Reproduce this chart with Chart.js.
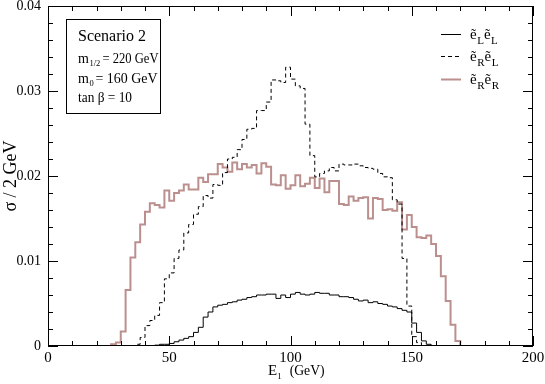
<!DOCTYPE html>
<html lang="en">
<head>
<meta charset="UTF-8">
<title>Scenario 2 - E1 spectrum</title>
<script src="https://cdn.jsdelivr.net/npm/chart.js@4.4.0/dist/chart.umd.min.js"></script>
<style>
  html, body { margin: 0; padding: 0; background: #ffffff; }
  .chart-box { position: relative; width: 545px; height: 384px; }
</style>
</head>
<body>
<div class="chart-box"><canvas id="spectrum"></canvas></div>
<script>
// histogram bins are 2 GeV wide, starting at 0
const binWidth = 2;
const xTicks = [0, 50, 100, 150, 200];
const yTicks = [0, 0.01, 0.02, 0.03, 0.04];
const xMinorStep = 10;
const yMinorStep = 0.002;

// sigma per 2 GeV bin (100 bins, 0..200 GeV)
const eLeL = [
  0,0,0,0,0,0,0,0,0,0, 0,0,0,0,0,0,0,0,0,0, 0,0,
  0.0001,0.0002,0.0002,0.0003,0.0005,0.0007,0.0009,0.0011,
  0.0016,0.0022,0.0034,0.0040,0.0046,0.0048,0.0049,0.0051,0.0052,0.0054,
  0.0055,0.0057,0.0058,0.0060,0.0060,0.0061,0.0061,0.0056,0.0060,0.0057,
  0.0061,0.0063,0.0061,0.0060,0.0061,0.0063,0.0062,0.0062,0.0060,0.0060,
  0.0058,0.0058,0.0057,0.0055,0.0053,0.0054,0.0051,0.0052,0.0050,0.0049,
  0.0047,0.0046,0.0044,0.0042,0.0040,0.0027,0.0016,0.0006,0.0002,
  0,0,0,0,0,0,0,0,0,0, 0,0,0,0,0,0,0,0,0,0, 0
];
const eReL = [
  0,0,0,0,0,0,0,0,0,0, 0,0,0,0,0,0,0,0,
  0.0002,0.0010,
  0.0024,0.0030,0.0036,0.0051,0.0079,0.0086,0.0103,0.0113,0.0133,0.0143,
  0.0155,0.0164,0.0177,0.0174,0.0190,0.0189,0.0204,0.0220,0.0222,0.0231,
  0.0243,0.0255,0.0256,0.0277,0.0277,0.0287,0.0313,0.0312,0.0310,0.0328,
  0.0314,0.0306,0.0303,0.0261,0.0224,0.0199,0.0203,0.0206,0.0210,0.0206,
  0.0214,0.0213,0.0213,0.0214,0.0212,0.0210,0.0209,0.0208,0.0203,0.0199,
  0.0198,0.0172,0.0167,0.0103,0.0047,0.0011,0.0004,
  0,0,0,0,0,0,0,0,0,0, 0,0,0,0,0,0,0,0,0,0, 0,0,0
];
const eReR = [
  0,0,0,0,0,0,0,0,0,0, 0,0,0,
  0.0002,0.0004,0.0017,0.0066,0.0104,0.0122,0.0143,
  0.0158,0.0168,0.0166,0.0163,0.0183,0.0171,0.0180,0.0183,0.0190,0.0184,
  0.0184,0.0198,0.0193,0.0202,0.0202,0.0214,0.0210,0.0205,0.0216,0.0208,
  0.0214,0.0210,0.0213,0.0203,0.0215,0.0211,0.0190,0.0189,0.0201,0.0185,
  0.0189,0.0201,0.0188,0.0191,0.0198,0.0186,0.0197,0.0181,0.0194,0.0194,
  0.0167,0.0166,0.0176,0.0171,0.0174,0.0175,0.0150,0.0174,0.0173,0.0160,
  0.0161,0.0159,0.0169,0.0137,0.0154,0.0140,0.0128,0.0127,0.0130,0.0120,
  0.0106,0.0082,0.0053,0.0025,0.0006,
  0,0,0,0,0,0,0,0,0,0, 0,0,0,0,0
];

const serif = "'Liberation Serif', 'Times New Roman', serif";

// left bin edges, plus closing point at the upper edge of the last bin
function histPoints(values) {
  const pts = values.map((v, i) => ({ x: i * binWidth, y: v }));
  pts.push({ x: values.length * binWidth, y: values[values.length - 1] });
  return pts;
}

const decorations = {
  id: 'decorations',
  afterDraw(chart) {
    const ctx = chart.ctx;
    const a = chart.chartArea;
    const xs = chart.scales.x, ys = chart.scales.y;
    ctx.save();
    ctx.strokeStyle = '#000';
    ctx.lineWidth = 1;

    // frame
    ctx.strokeRect(a.left + 0.5, a.top + 0.5, a.right - a.left - 1, a.bottom - a.top - 1);

    // inward ticks on all four sides
    ctx.beginPath();
    for (let v = xs.min; v <= xs.max + 1e-9; v += xMinorStep) {
      const px = Math.round(xs.getPixelForValue(v)) + 0.5;
      const len = xTicks.includes(v) ? 10 : 5;
      ctx.moveTo(px, a.bottom); ctx.lineTo(px, a.bottom - len);
      ctx.moveTo(px, a.top); ctx.lineTo(px, a.top + len);
    }
    for (let k = 0; k * yMinorStep <= ys.max + 1e-9; k++) {
      const v = k * yMinorStep;
      const py = Math.round(ys.getPixelForValue(v)) + 0.5;
      const len = k % 5 === 0 ? 10 : 5;
      ctx.moveTo(a.left, py); ctx.lineTo(a.left + len, py);
      ctx.moveTo(a.right, py); ctx.lineTo(a.right - len, py);
    }
    ctx.stroke();

    ctx.fillStyle = '#000';
    ctx.textBaseline = 'alphabetic';

    // y axis title
    ctx.save();
    ctx.translate(16, (a.top + a.bottom) / 2);
    ctx.rotate(-Math.PI / 2);
    ctx.textAlign = 'center';
    ctx.font = '18px ' + serif;
    ctx.fillText('σ / 2 GeV', 0, 0);
    ctx.restore();

    // x axis title with subscript
    ctx.textAlign = 'left';
    let tx = 268, ty = 375;
    ctx.font = '15px ' + serif;
    ctx.fillText('E', tx, ty);
    tx += ctx.measureText('E').width;
    ctx.font = '9px ' + serif;
    ctx.fillText('1', tx, ty + 4);
    tx += ctx.measureText('1').width + 8;
    ctx.font = '14px ' + serif;
    ctx.fillText('(GeV)', tx, ty, 35);

    // info box
    ctx.strokeRect(66.5, 19.5, 94, 94);
    ctx.font = '16px ' + serif;
    ctx.fillText('Scenario 2', 78, 40.5);

    ctx.font = '14px ' + serif;
    ctx.fillText('m', 78, 62.5);
    let mx = 78 + ctx.measureText('m').width + 0.5;
    ctx.font = '8.5px ' + serif;
    ctx.fillText('1/2', mx, 66);
    ctx.font = '14px ' + serif;
    ctx.fillText('= 220 GeV', 102.5, 62.5, 56);

    ctx.fillText('m', 78, 82.5);
    ctx.font = '8.5px ' + serif;
    ctx.fillText('0', mx, 86);
    ctx.font = '14px ' + serif;
    ctx.fillText('= 160 GeV', 95.5, 82.5, 62);
    ctx.fillText('tan β = 10', 78, 101.5, 54);

    // legend
    const rows = [
      { ds: 0, y: 34.5, a: 'L', b: 'L' },
      { ds: 1, y: 56.5, a: 'R', b: 'L' },
      { ds: 2, y: 79.5, a: 'R', b: 'R' }
    ];
    rows.forEach(r => {
      const d = chart.data.datasets[r.ds];
      ctx.save();
      ctx.strokeStyle = d.borderColor;
      ctx.lineWidth = d.borderWidth;
      ctx.setLineDash(d.borderDash || []);
      ctx.beginPath();
      ctx.moveTo(441, r.y); ctx.lineTo(461, r.y);
      ctx.stroke();
      ctx.restore();
      let lx = 470;
      const base = r.y + 4;
      ctx.font = '15px ' + serif;
      ctx.fillText('ẽ', lx, base);
      lx += ctx.measureText('ẽ').width + 0.5;
      ctx.font = '11px ' + serif;
      ctx.fillText(r.a, lx, base + 5);
      lx += ctx.measureText(r.a).width;
      ctx.font = '15px ' + serif;
      ctx.fillText('ẽ', lx, base);
      lx += ctx.measureText('ẽ').width + 0.5;
      ctx.font = '11px ' + serif;
      ctx.fillText(r.b, lx, base + 5);
    });
    ctx.restore();
  }
};

new Chart(document.getElementById('spectrum'), {
  type: 'line',
  data: {
    datasets: [
      {
        label: 'eL eL',
        data: histPoints(eLeL),
        borderColor: '#000000',
        borderWidth: 1,
        stepped: 'before',
        pointRadius: 0
      },
      {
        label: 'eR eL',
        data: histPoints(eReL),
        borderColor: '#000000',
        borderWidth: 1,
        borderDash: [4, 3],
        stepped: 'before',
        pointRadius: 0
      },
      {
        label: 'eR eR',
        data: histPoints(eReR),
        borderColor: '#bc8f8f',
        borderWidth: 2,
        stepped: 'before',
        pointRadius: 0
      }
    ]
  },
  options: {
    responsive: true,
    maintainAspectRatio: false,
    animation: false,
    layout: { padding: { top: 6, right: 12, left: 0, bottom: 0 } },
    plugins: {
      legend: { display: false },
      tooltip: { enabled: false }
    },
    scales: {
      x: {
        type: 'linear',
        min: 0,
        max: 200,
        afterBuildTicks: s => { s.ticks = xTicks.map(v => ({ value: v })); },
        afterFit: s => { s.height = 38; s.paddingLeft = 0; s.paddingRight = 0; },
        ticks: { color: '#000', font: { family: serif, size: 15 }, padding: 3, maxRotation: 0 },
        grid: { display: false, drawTicks: false },
        border: { display: false }
      },
      y: {
        type: 'linear',
        min: 0,
        max: 0.04,
        afterBuildTicks: s => { s.ticks = yTicks.map(v => ({ value: v })); },
        afterFit: s => { s.width = 48; s.paddingTop = 0; s.paddingBottom = 0; },
        ticks: {
          color: '#000',
          font: { family: serif, size: 14 },
          padding: 7,
          callback: v => v === 0 ? '0' : v.toFixed(2)
        },
        grid: { display: false, drawTicks: false },
        border: { display: false }
      }
    }
  },
  plugins: [decorations]
});
</script>
</body>
</html>
